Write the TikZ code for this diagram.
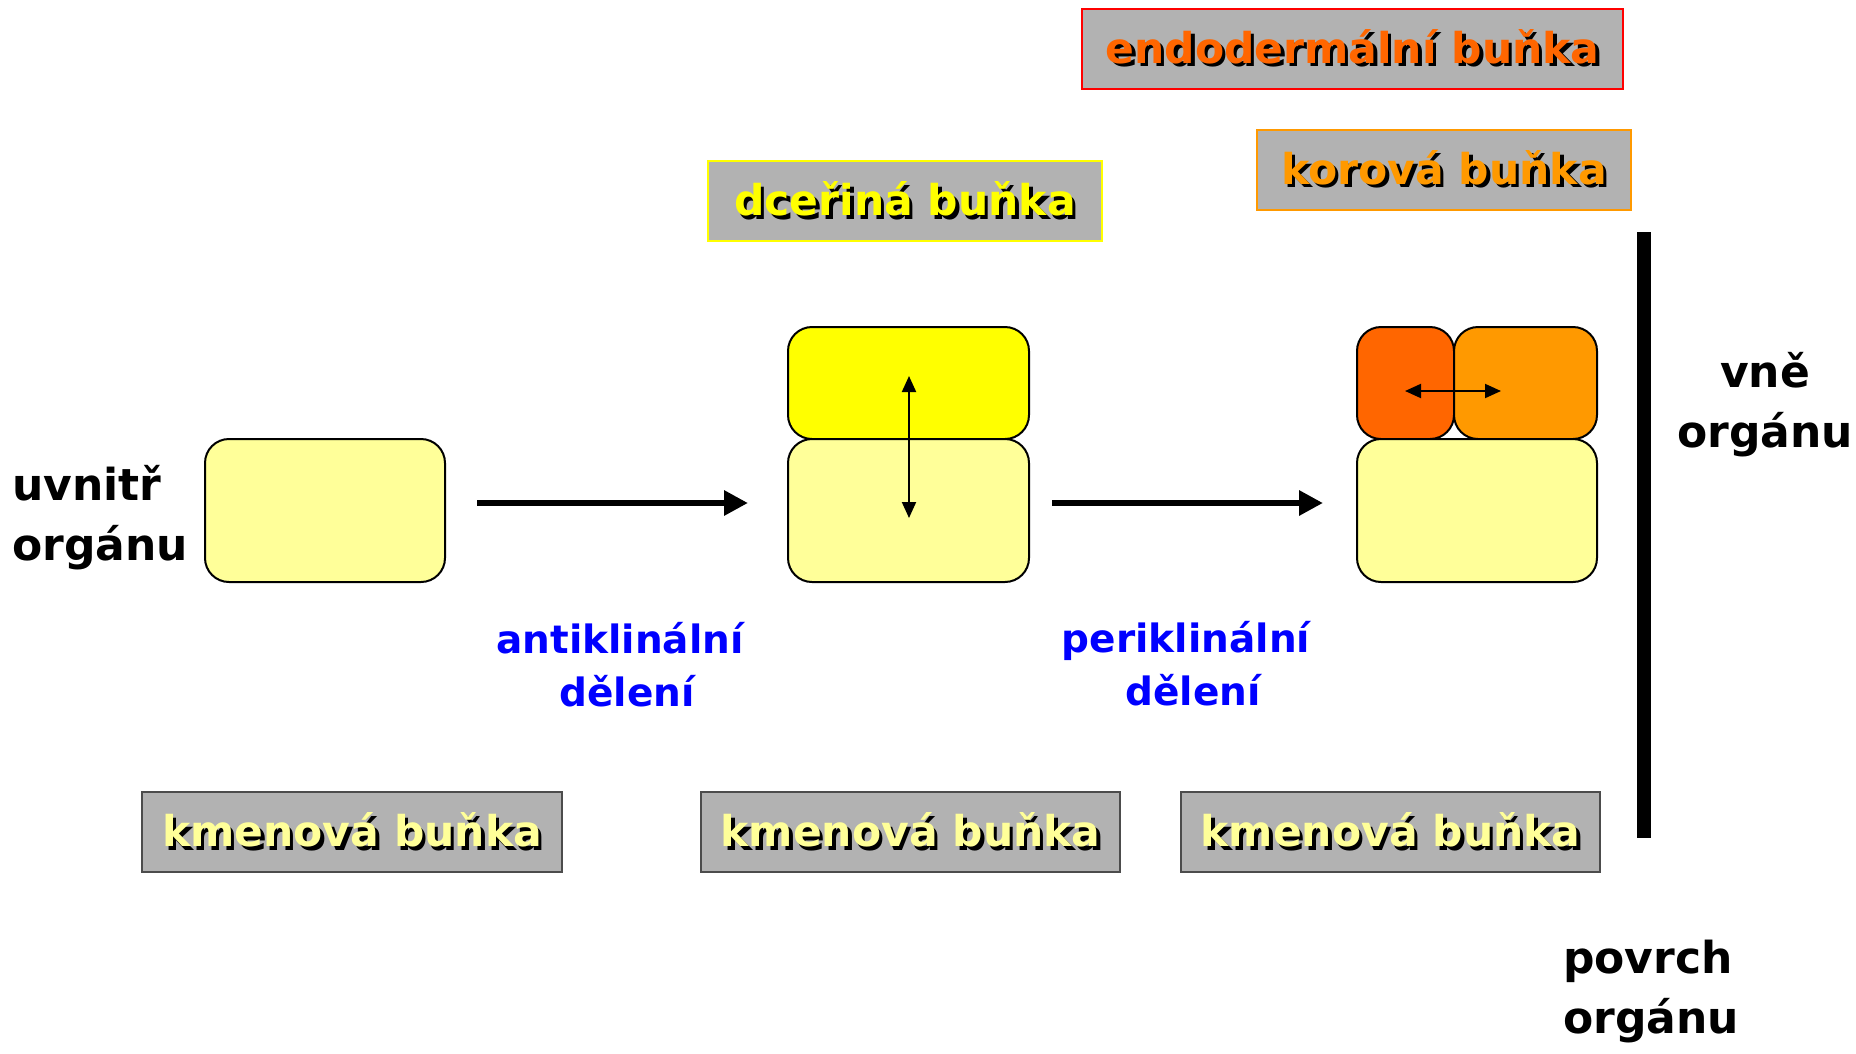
\documentclass[tikz,border=0pt]{standalone}
\usepackage{fontspec}
\setmainfont{DejaVu Sans}
\usetikzlibrary{arrows.meta}
\definecolor{cellpale}{HTML}{FFFF99}
\definecolor{cellyel}{HTML}{FFFF00}
\definecolor{celldark}{HTML}{FF6600}
\definecolor{cellorg}{HTML}{FF9900}
\definecolor{boxgray}{HTML}{B2B2B2}
\definecolor{txtblue}{HTML}{0000FF}
\newcommand{\shd}[2]{\rlap{\kern3.5pt\raisebox{-3.5pt}{\color{black}#2}}{\color{#1}#2}}
\tikzset{
  cell/.style={draw=black, line width=2pt, rounded corners=24pt, inner sep=0pt},
  lbox/.style={fill=boxgray, line width=2pt, inner sep=0pt, minimum height=80pt,
     font=\fontsize{42.5}{48}\bfseries},
  dark/.style={font=\fontsize{44}{60}\bfseries, align=left, inner sep=0pt},
  bluetxt/.style={font=\fontsize{39}{53}\bfseries, text=txtblue, align=center, inner sep=0pt},
  bigarrow/.style={line width=6pt, -{Triangle[length=24pt,width=24pt]}},
  smallarrow/.style={line width=2pt, {Triangle[length=16pt,width=14pt]}-{Triangle[length=16pt,width=14pt]}}
}
\begin{document}
\begin{tikzpicture}[x=1pt,y=-1pt]
\useasboundingbox (0,0) rectangle (1856,1053);
% label boxes
\node[lbox, draw=red, minimum width=541pt] (endo) at (1352.5,48.5) {\shd{celldark}{endodermální buňka}};
\node[lbox, draw=cellorg, minimum width=374pt] (kor) at (1444,169.5) {\shd{cellorg}{korová buňka}};
\node[lbox, draw=cellyel, minimum width=394pt] (dcer) at (905,201) {\shd{cellyel}{dceřiná buňka}};
\node[lbox, draw=black!70, minimum width=420pt] (km1) at (352,832) {\shd{cellpale}{kmenová buňka}};
\node[lbox, draw=black!70, minimum width=419pt] (km2) at (910.5,832) {\shd{cellpale}{kmenová buňka}};
\node[lbox, draw=black!70, minimum width=419pt] (km3) at (1390.5,832) {\shd{cellpale}{kmenová buňka}};
% cells
\node[cell, fill=cellpale, minimum width=240pt, minimum height=143pt] (c1) at (325,510.5) {};
\node[cell, fill=cellyel, minimum width=241pt, minimum height=112pt] (c2t) at (908.5,383) {};
\node[cell, fill=cellpale, minimum width=241pt, minimum height=143pt] (c2b) at (908.5,510.5) {};
\node[cell, fill=celldark, minimum width=97pt, minimum height=112pt] (c3l) at (1405.5,383) {};
\node[cell, fill=cellorg, minimum width=143pt, minimum height=112pt] (c3r) at (1525.5,383) {};
\node[cell, fill=cellpale, minimum width=240pt, minimum height=143pt] (c3b) at (1477,510.5) {};
% division arrows inside cells
\coordinate (vtop) at (909,376);
\coordinate (vbot) at (909,518);
\draw[smallarrow] (vtop) -- (vbot);
\coordinate (hl) at (1405,391);
\coordinate (hr) at (1501,391);
\draw[smallarrow] (hl) -- (hr);
% big arrows
\coordinate (a1s) at (477,503);
\coordinate (a1e) at (748,503);
\coordinate (a2s) at (1052,503);
\coordinate (a2e) at (1323,503);
\draw[bigarrow] (a1s) -- (a1e);
\draw[bigarrow] (a2s) -- (a2e);
% surface bar
\fill (1637,232) rectangle (1651,838);
% texts
\node[dark, anchor=west] (uvn) at (12,518) {uvnitř\\orgánu};
\node[dark, align=center] (vne) at (1765,405) {vně\\orgánu};
\node[dark, align=left] (povr) at (1651,992) {povrch\\orgánu};
\node[bluetxt] (anti) at (620,665) {antiklinální\\\hspace*{14pt}dělení};
\node[bluetxt] (peri) at (1186,664) {periklinální\\\hspace*{14pt}dělení};
\end{tikzpicture}
\end{document}
